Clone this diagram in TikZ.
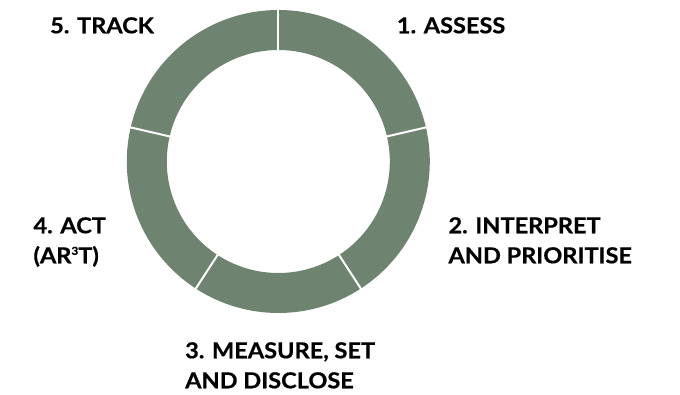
\documentclass[tikz,border=0pt]{standalone}
\usepackage{fontspec}
\setmainfont{Lato}[BoldFeatures={FakeStretch=1.07,FakeBold=0.6}]
\definecolor{ringgreen}{HTML}{6E8470}
\begin{document}
\begin{tikzpicture}[x=1pt,y=-1pt,
  lbl/.style={anchor=base west,inner sep=0pt,align=left,font=\fontsize{22}{30}\selectfont\bfseries,text=black},
  seg/.style={fill=ringgreen,draw=none},
  gap/.style={draw=white,line width=2pt}]
\useasboundingbox (0,0) rectangle (680,394);
\coordinate (c) at (278.3,161.5);
\def\ro{151.5}
\def\ri{111.5}
% angles negated because the y axis points down
\foreach \a/\b in {-90/-13,-13/57,57/123,123/193,193/270}{
  \fill[seg] ([shift={(\a:\ro)}]c) arc[start angle=\a,end angle=\b,radius=\ro]
     -- ([shift={(\b:\ri)}]c) arc[start angle=\b,end angle=\a,radius=\ri] -- cycle;
}
\foreach \a in {-90,-13,57,123,193}{
  \draw[gap] ([shift={(\a:\ri-2)}]c) -- ([shift={(\a:\ro+2)}]c);
}
\node[lbl] (track) at (50,33.3) {5. TRACK};
\node[lbl] (assess) at (396.7,33.3) {1. ASSESS};
\node[lbl] (interp) at (448.3,263.3) {2. INTERPRET\\AND PRIORITISE};
\node[lbl] (act) at (33.3,263.3) {4. ACT\\(AR\raisebox{0.75ex}{\fontsize{11}{11}\selectfont 3}T)};
\node[lbl] (measure) at (185,388.3) {3. MEASURE, SET\\AND DISCLOSE};
\end{tikzpicture}
\end{document}
